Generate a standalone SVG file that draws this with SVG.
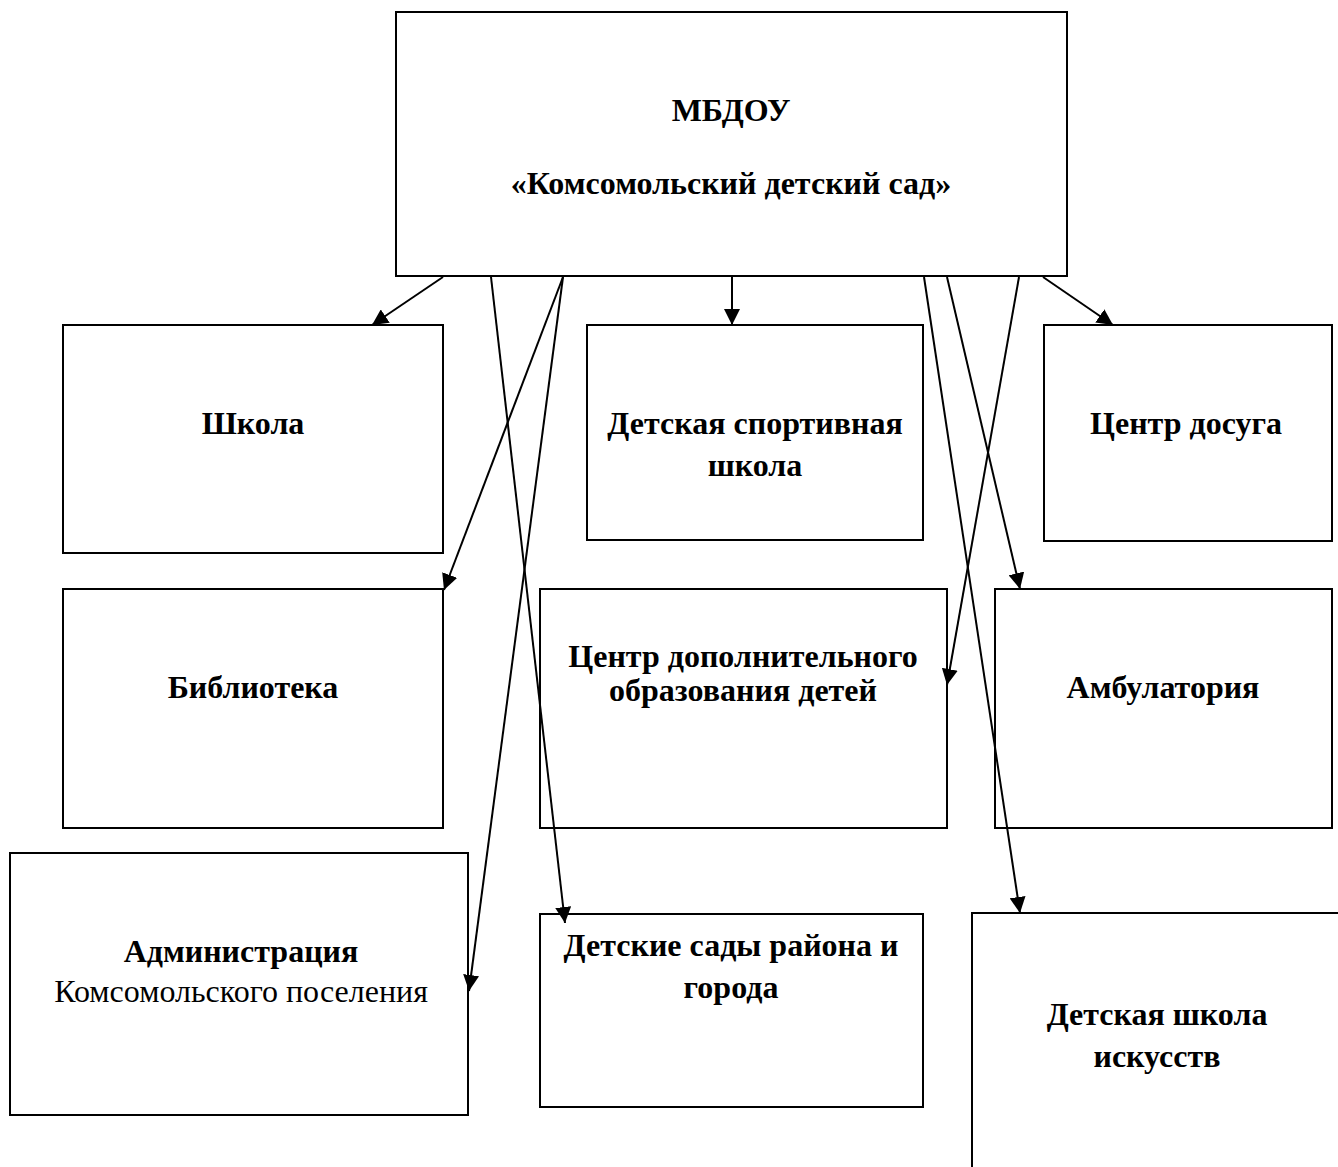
<svg xmlns="http://www.w3.org/2000/svg" width="1338" height="1167" viewBox="0 0 1338 1167">
<style>
.box{fill:#fff;stroke:#000;stroke-width:2}
.t{font-family:"Liberation Serif","Times New Roman",serif;font-size:32px;font-weight:bold;text-anchor:middle;fill:#000}
.n{font-weight:normal}
.c{stroke:#000;stroke-width:2;fill:none}
</style>
<defs>
<marker id="ah" markerUnits="userSpaceOnUse" markerWidth="18" markerHeight="16" refX="16" refY="8" orient="auto">
<path d="M0,0 L16,8 L0,16 z" fill="#000"/>
</marker>
</defs>
<rect width="1338" height="1167" fill="#fff"/>
<g id="n-main"><rect class="box" x="396" y="12" width="671" height="264"/>
<text class="t" x="731" y="121">МБДОУ</text>
<text class="t" x="731" y="194">«Комсомольский детский сад»</text></g>
<g id="n-shkola"><rect class="box" x="63" y="325" width="380" height="228"/><text class="t" x="253" y="434">Школа</text></g>
<g id="n-dss"><rect class="box" x="587" y="325" width="336" height="215"/><text class="t" x="755" y="434">Детская спортивная</text><text class="t" x="755" y="476">школа</text></g>
<g id="n-dosug"><rect class="box" x="1044" y="325" width="288" height="216"/><text class="t" x="1186" y="434">Центр досуга</text></g>
<g id="n-bibl"><rect class="box" x="63" y="589" width="380" height="239"/><text class="t" x="253" y="698">Библиотека</text></g>
<g id="n-cdo"><rect class="box" x="540" y="589" width="407" height="239"/><text class="t" x="743" y="667">Центр дополнительного</text><text class="t" x="743" y="701">образования детей</text></g>
<g id="n-amb"><rect class="box" x="995" y="589" width="337" height="239"/><text class="t" x="1163" y="698">Амбулатория</text></g>
<g id="n-adm"><rect class="box" x="10" y="853" width="458" height="262"/><text class="t" x="241" y="962">Администрация</text><text class="t n" x="241" y="1002">Комсомольского поселения</text></g>
<g id="n-sady"><rect class="box" x="540" y="914" width="383" height="193"/><text class="t" x="731" y="956">Детские сады района и</text><text class="t" x="731" y="998">города</text></g>
<g id="n-dshi"><rect class="box" x="972" y="913" width="370" height="260"/><text class="t" x="1157" y="1025">Детская школа</text><text class="t" x="1157" y="1067">искусств</text></g>
<g id="connectors">
<line class="c" x1="443" y1="277" x2="372" y2="325" marker-end="url(#ah)"/>
<line class="c" x1="491" y1="277" x2="565" y2="923" marker-end="url(#ah)"/>
<line class="c" x1="563" y1="277" x2="444" y2="590" marker-end="url(#ah)"/>
<line class="c" x1="563" y1="277" x2="469" y2="991" marker-end="url(#ah)"/>
<line class="c" x1="732" y1="277" x2="732" y2="325" marker-end="url(#ah)"/>
<line class="c" x1="924" y1="277" x2="1020" y2="913" marker-end="url(#ah)"/>
<line class="c" x1="947" y1="277" x2="1020" y2="589" marker-end="url(#ah)"/>
<line class="c" x1="1019" y1="277" x2="947" y2="685" marker-end="url(#ah)"/>
<line class="c" x1="1043" y1="277" x2="1113" y2="325" marker-end="url(#ah)"/>
</g>
</svg>
